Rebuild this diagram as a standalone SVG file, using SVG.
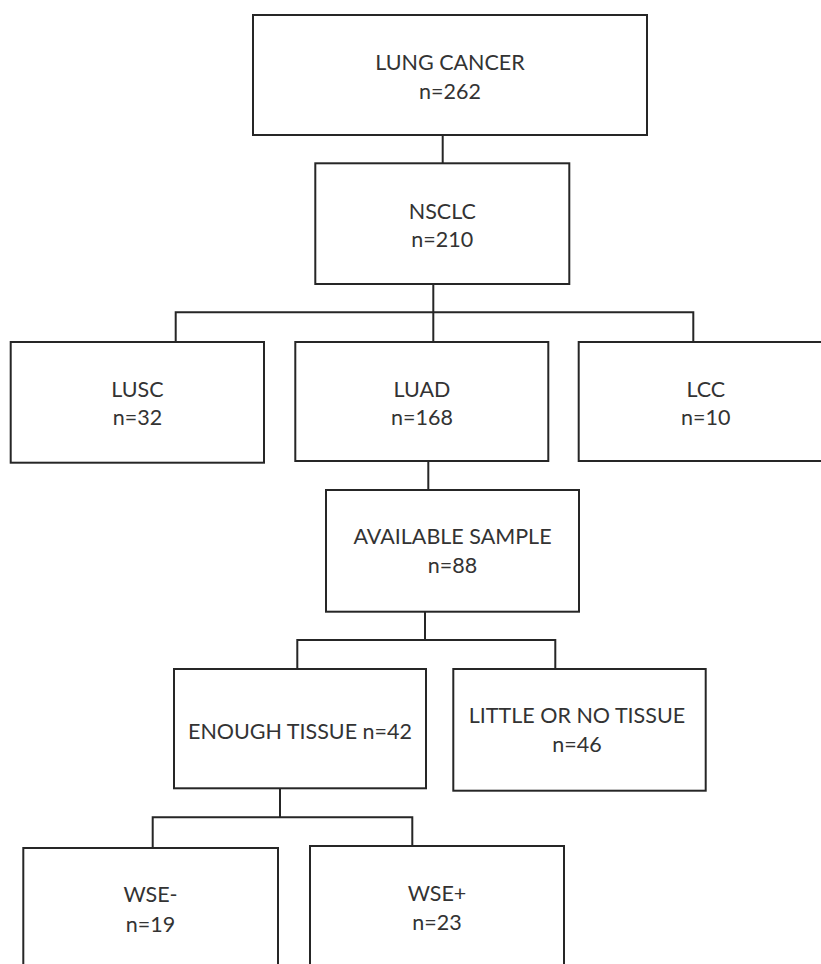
<svg xmlns="http://www.w3.org/2000/svg" width="821" height="964" viewBox="0 0 821 964">
<style>
.box{fill:#fff;stroke:#262626;stroke-width:2}
.conn{fill:none;stroke:#262626;stroke-width:2}
text{font-family:Lato,"Open Sans","Liberation Sans",sans-serif;font-size:21.5px;fill:#333;text-anchor:middle}
</style>
<rect width="821" height="964" fill="#fff"/>
<g id="connectors">
<path class="conn" d="M442.7 135V163"/>
<path class="conn" d="M433.3 284V342"/>
<path class="conn" d="M175.7 342V312.3H693.3V342"/>
<path class="conn" d="M428.3 461V490"/>
<path class="conn" d="M425 612V640"/>
<path class="conn" d="M297.3 669V640H555.3V669"/>
<path class="conn" d="M280 789V817.3"/>
<path class="conn" d="M152.7 848V817.3H412.3V846"/>
</g>
<g id="lung-cancer">
<rect class="box" x="253" y="15" width="394" height="120"/>
<text x="450" y="70">LUNG CANCER</text>
<text x="450" y="98.7">n=262</text>
</g>
<g id="nsclc">
<rect class="box" x="315.3" y="163.3" width="254" height="120.7"/>
<text x="442.3" y="219">NSCLC</text>
<text x="442.3" y="247">n=210</text>
</g>
<g id="lusc">
<rect class="box" x="10.7" y="342" width="253.3" height="120.7"/>
<text x="137.5" y="396.7">LUSC</text>
<text x="137.5" y="425">n=32</text>
</g>
<g id="luad">
<rect class="box" x="295.3" y="342" width="253" height="119"/>
<text x="422" y="397">LUAD</text>
<text x="422" y="425">n=168</text>
</g>
<g id="lcc">
<rect class="box" x="578.7" y="342" width="254" height="119"/>
<text x="705.8" y="397">LCC</text>
<text x="705.8" y="425">n=10</text>
</g>
<g id="available-sample">
<rect class="box" x="326" y="490" width="253" height="121.7"/>
<text x="452.5" y="544.3">AVAILABLE SAMPLE</text>
<text x="452.5" y="573.3">n=88</text>
</g>
<g id="enough-tissue">
<rect class="box" x="174" y="669" width="252" height="119.3"/>
<text x="300" y="738.7">ENOUGH TISSUE n=42</text>
</g>
<g id="little-tissue">
<rect class="box" x="453.3" y="669" width="252.4" height="121.7"/>
<text x="577" y="723.3">LITTLE OR NO TISSUE</text>
<text x="577" y="752.3">n=46</text>
</g>
<g id="wse-minus">
<rect class="box" x="23.3" y="848" width="254.7" height="140"/>
<text x="150.5" y="902.3">WSE-</text>
<text x="150.5" y="931.7">n=19</text>
</g>
<g id="wse-plus">
<rect class="box" x="310" y="846" width="254" height="140"/>
<text x="437" y="900.7">WSE+</text>
<text x="437" y="930">n=23</text>
</g>
</svg>
